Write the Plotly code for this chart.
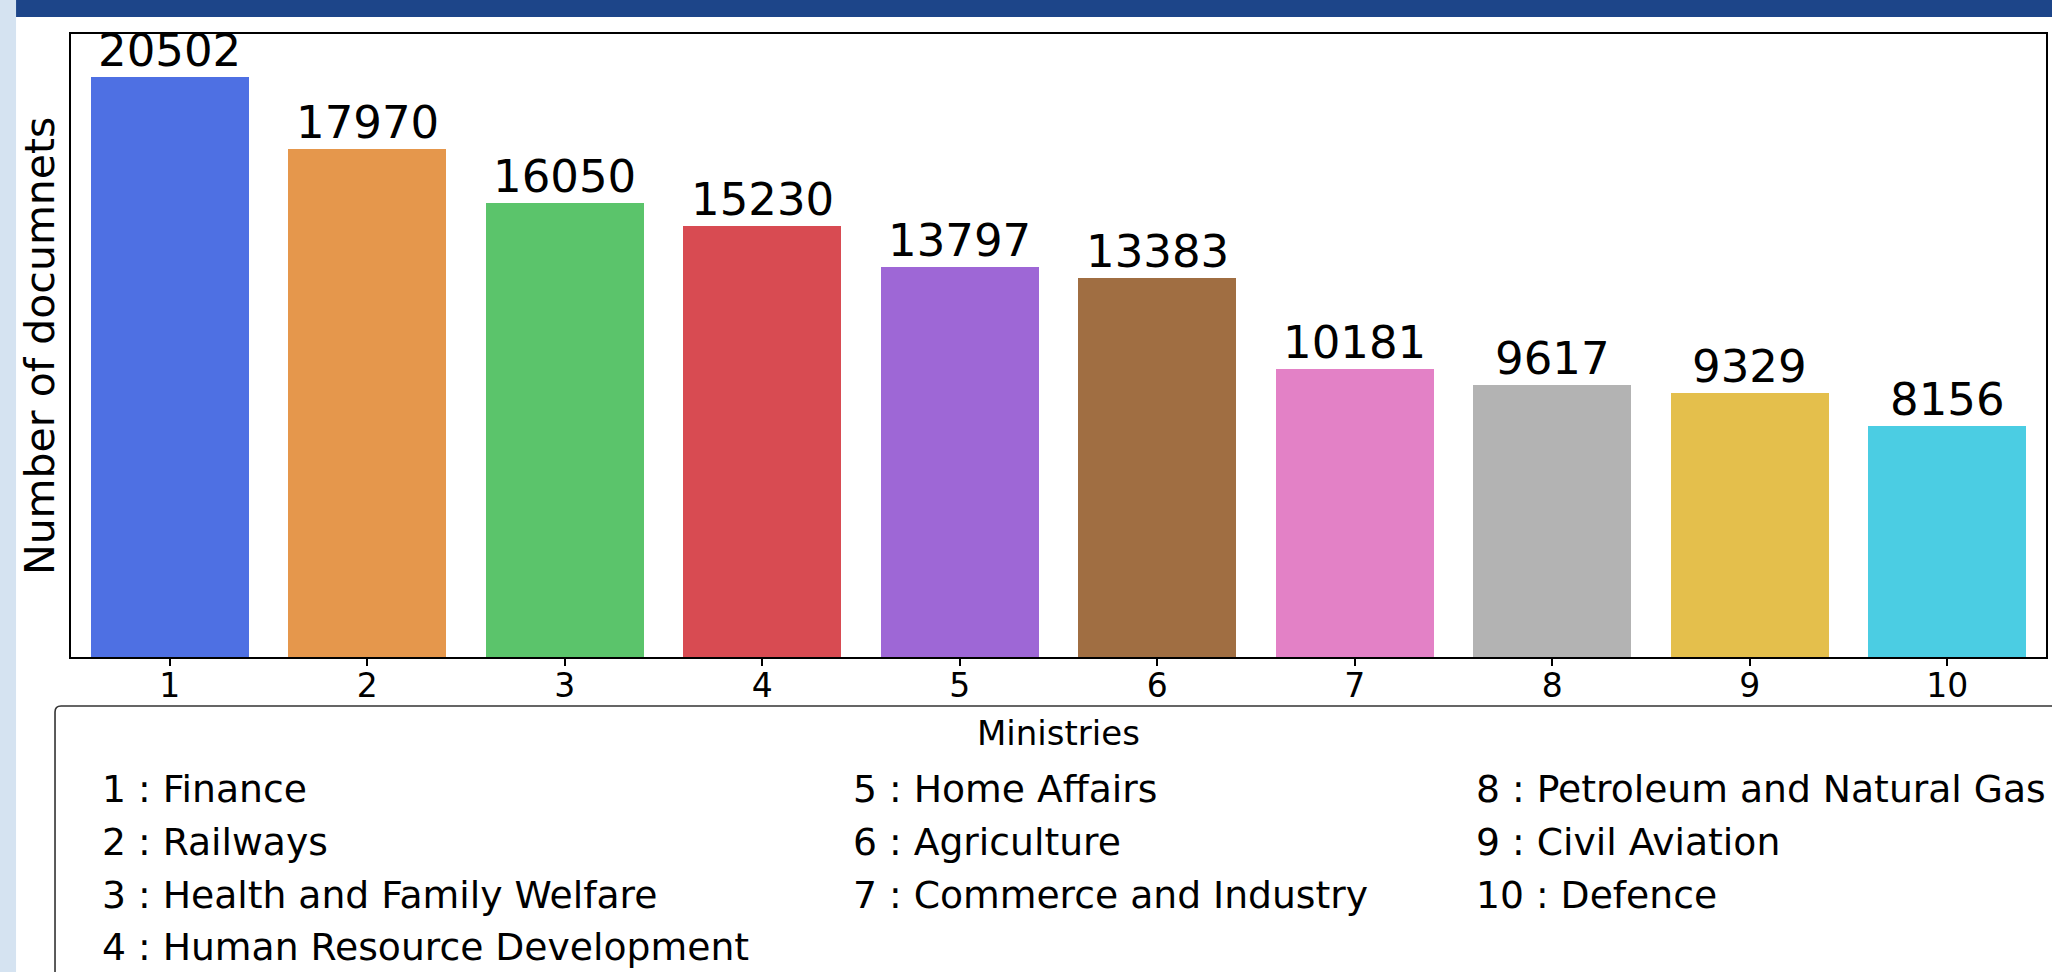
import plotly.graph_objects as go

# ---- data ----
ministry_ids = [1, 2, 3, 4, 5, 6, 7, 8, 9, 10]
ministry_names = [
    "Finance", "Railways", "Health and Family Welfare", "Human Resource Development",
    "Home Affairs", "Agriculture", "Commerce and Industry",
    "Petroleum and Natural Gas", "Civil Aviation", "Defence",
]
doc_counts = [20502, 17970, 16050, 15230, 13797, 13383, 10181, 9617, 9329, 8156]
bar_colors = ["#4e70e3", "#e5974c", "#5bc46b", "#d84b52", "#9e67d6",
              "#a06e42", "#e381c6", "#b3b3b3", "#e4bf4c", "#4bcde3"]
legend_columns = [[0, 1, 2, 3], [4, 5, 6], [7, 8, 9]]

W, H = 2052, 972
L, R, T, B = 71, 2048, 34, 657
FONT = "DejaVu Sans"


def px_x(p):
    return (p - L) / (R - L)


def px_y(p):
    return (B - p) / (B - T)


fig = go.Figure()
fig.add_trace(go.Bar(
    x=ministry_ids, y=doc_counts, width=0.8,
    marker=dict(color=bar_colors, line=dict(width=0)),
    showlegend=False, hoverinfo="x+y",
))

annotations = []
for i, v in zip(ministry_ids, doc_counts):
    annotations.append(dict(
        x=i, y=v, xref="x", yref="y", text=str(v), showarrow=False,
        yanchor="bottom", xanchor="center", yshift=-2,
        font=dict(family=FONT, size=45, color="black"),
    ))

# axis titles
annotations.append(dict(
    x=px_x(1060), y=px_y(733), xref="paper", yref="paper", text="Ministries",
    showarrow=False, xanchor="center", yanchor="middle",
    font=dict(family=FONT, size=34, color="black"),
))
annotations.append(dict(
    x=px_x(40), y=px_y(346), xref="paper", yref="paper", text="Number of documnets",
    showarrow=False, xanchor="center", yanchor="middle", textangle=-90,
    font=dict(family=FONT, size=41, color="black"),
))

# legend text
col_x = [100, 852, 1475]
row_y = [789, 842, 895, 947]
for c, idxs in enumerate(legend_columns):
    for r, k in enumerate(idxs):
        annotations.append(dict(
            x=px_x(col_x[c]), y=px_y(row_y[r]), xref="paper", yref="paper",
            text=f"{ministry_ids[k]} : {ministry_names[k]}", showarrow=False,
            xanchor="left", yanchor="middle",
            font=dict(family=FONT, size=37.7, color="black"),
        ))

shapes = [
    # left light strip
    dict(type="rect", xref="paper", yref="paper", x0=px_x(-5), x1=px_x(16),
         y0=px_y(-5), y1=px_y(980), fillcolor="#d5e3f1", line=dict(width=0), layer="below"),
    # top dark band
    dict(type="rect", xref="paper", yref="paper", x0=px_x(16), x1=px_x(2060),
         y0=px_y(-5), y1=px_y(17), fillcolor="#1d4589", line=dict(width=0), layer="below"),
]
# legend box (rounded top-left corner, extending past the edges)
x0, y0, rr = px_x(55), px_y(706), 6
path = (f"M {px_x(2070)},{y0} L {px_x(55 + rr)},{y0} "
        f"Q {x0},{y0} {x0},{px_y(706 + rr)} L {x0},{px_y(990)}")
shapes.append(dict(type="path", xref="paper", yref="paper", path=path,
                   line=dict(color="#333333", width=1.6)))

fig.update_layout(
    width=W, height=H,
    margin=dict(l=L, r=W - R, t=T, b=H - B, pad=0),
    paper_bgcolor="white", plot_bgcolor="white",
    font=dict(family=FONT, color="black"),
    annotations=annotations, shapes=shapes,
    bargap=0,
)
fig.update_xaxes(
    range=[0.5, 10.5], tickmode="array", tickvals=ministry_ids,
    ticktext=[str(i) for i in ministry_ids],
    ticks="outside", ticklen=7, tickwidth=1.5, tickcolor="black",
    tickfont=dict(family=FONT, size=33, color="black"),
    ticklabelstandoff=-8,
    showline=True, linecolor="black", linewidth=1.5, mirror=True,
    showgrid=False, zeroline=False,
)
fig.update_yaxes(
    range=[0, 22020], showticklabels=False, ticks="",
    showline=True, linecolor="black", linewidth=1.5, mirror=True,
    showgrid=False, zeroline=False,
)

fig.write_html("out.html", config={"displayModeBar": False},
               post_script="document.body.style.margin='0';")
